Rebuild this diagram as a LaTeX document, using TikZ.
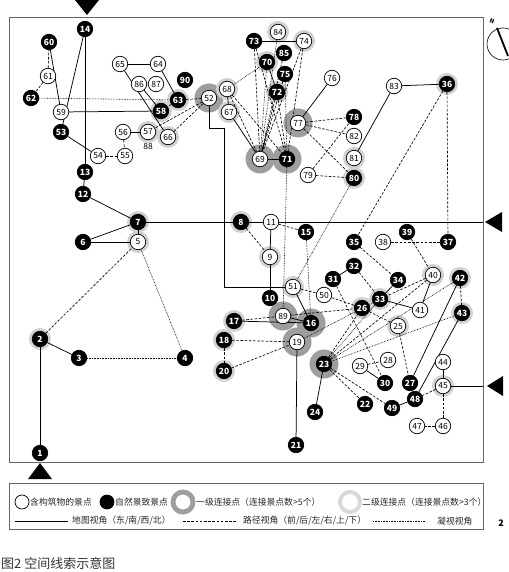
\documentclass[tikz,border=0pt]{standalone}
\usepackage{fontspec}
\setmainfont{Noto Sans CJK SC}
\pgfdeclarelayer{halo}
\pgfdeclarelayer{front}
\pgfsetlayers{halo,main,front}
\tikzset{
  site/.style={circle, draw=black, line width=0.7pt, fill=white, minimum size=15.5pt, inner sep=0pt, font=\fontsize{8.5}{8.5}\selectfont},
  nature/.style={site, fill=black, text=white, font=\fontsize{8.5}{8.5}\selectfont\bfseries},
  mapview/.style={line width=0.75pt},
  pathview/.style={line width=0.65pt, dash pattern=on 2.6pt off 1.6pt},
  gazeview/.style={line width=0.6pt, dash pattern=on 0.7pt off 0.9pt},
  hubA/.style={fill=black!38},
  hubB/.style={fill=black!18},
  frame/.style={draw=black!60, line width=0.8pt},
  legend/.style={anchor=west, inner sep=0pt, text=black!85, font=\fontsize{8.8}{8.8}\selectfont},
}
\begin{document}
\begin{tikzpicture}[x=1pt,y=-1pt]
\useasboundingbox (0,0) rectangle (508,572);

% Frames
\draw[frame] (9,17) rectangle (483,462);
\draw[frame] (9,483) rectangle (483,529);

% View arrows
\fill (75,0) -- (99,0) -- (87,15) -- cycle;
\fill (40,463) -- (28,479) -- (52,479) -- cycle;
\fill (485,222) -- (502,212) -- (502,232) -- cycle;
\fill (487,386) -- (503,376) -- (503,396) -- cycle;
\coordinate (eastA) at (483,222);
\coordinate (eastB) at (483,386);
\coordinate (bend52) at (224,128);

% Compass
\draw[line width=0.6pt] (503,44) circle (16pt);
\draw[line width=1.8pt] (497,28) -- (508,56);
\node[font=\bfseries\fontsize{6}{6}\selectfont, rotate=-20] (north) at (492,21) {N};

% Scenic spots
\begin{pgfonlayer}{front}
\foreach \n/\x/\y in {1/40/453, 2/40/339, 3/79/358, 4/185/358, 6/83/242, 7/138/222,
  8/241/222, 10/270/298, 12/83/194, 13/85/172, 14/85/29, 15/306/232, 16/311/323,
  17/234/321, 18/224/340, 20/224/371, 21/296/445, 22/365/404, 23/324/364,
  24/315/412, 26/362/308, 27/410/383, 30/385/383, 31/333/279, 32/354/266,
  33/380/299, 34/398/280, 35/354/242, 36/447/84, 37/448/242, 39/407/232,
  42/460/278, 43/462/313, 48/415/399, 49/392/408, 53/61/132, 58/161/111,
  60/49/42, 62/31/98, 63/178/100, 70/267/62, 71/287/159, 72/277/92, 73/254/41,
  75/285/74, 78/354/117, 80/354/178, 85/284/53, 90/185/80}
  \node[nature] (n\n) at (\x,\y) {\n};
\foreach \n/\x/\y in {5/138/242, 9/270/257, 11/271/222, 19/297/342, 25/398/326,
  28/388/360, 29/360/366, 38/383/242, 40/433/275, 41/420/310, 44/443/362,
  45/443/386, 46/443/426, 47/417/426, 50/324/295, 51/293/287, 52/209/98,
  54/98/156, 55/125/156, 56/123/132, 57/148/132, 59/61/112, 61/48/76,
  64/158/64, 65/120/64, 66/168/137, 67/229/112, 68/227/89, 69/260/159,
  74/304/41, 76/332/78, 77/298/123, 79/308/175, 81/354/158, 82/354/136,
  83/394/86, 84/278/32, 86/139/84, 87/156/84, 89/283/316}
  \node[site] (n\n) at (\x,\y) {\n};
\node[font=\fontsize{8.5}{8.5}\selectfont] (lbl88) at (148,146) {88};
\end{pgfonlayer}

% Connection points
\begin{pgfonlayer}{halo}
\foreach \n in {16,19,23,52,69,71,77,89}
  \fill[hubA] (n\n) circle (14.5pt);
\foreach \n in {2,5,7,8,9,17,18,20,25,26,33,36,40,42,43,45,51,57,58,63,66,67,68,70,72,74,80,81,84}
  \fill[hubB] (n\n) circle (11pt);
\end{pgfonlayer}

% Map view
\foreach \a/\b in {1/2, 2/3, 12/13, 12/7, 6/7, 6/5, 7/5, 14/13, 14/53, 60/59,
  59/58, 53/54, 65/64, 64/63, 65/66, 86/58, 56/57, 68/67, 67/69, 69/71, 73/74,
  70/72, 76/77, 81/83, 83/36, 11/9, 9/10, 51/16, 89/16, 17/16, 19/21, 23/24,
  31/32, 34/33, 33/41, 40/41, 42/27, 43/48, 44/45, 48/49, 29/30}
  \draw[mapview] (n\a) -- (n\b);
\draw[mapview] (n7) -- (eastA);
\draw[mapview] (n45) -- (eastB);
\draw[mapview] (n52) |- (bend52) |- (n51);

% Path view
\foreach \a/\b in {2/5, 61/60, 61/62, 54/55, 56/55, 63/52, 52/66, 52/57, 63/58,
  68/71, 68/69, 73/69, 73/71, 74/69, 74/71, 85/69, 75/69, 72/69, 72/71, 77/78,
  77/82, 77/80, 79/78, 79/80, 36/37, 36/35, 8/9, 11/15, 51/50, 50/26, 89/26,
  17/89, 18/19, 18/20, 20/19, 23/22, 23/49, 23/26, 23/40, 39/40, 38/37, 35/34,
  32/33, 40/33, 42/43, 45/48, 45/46, 46/47, 26/25, 25/27, 29/28, 31/30}
  \draw[pathview] (n\a) -- (n\b);

% Gaze view
\foreach \a/\b in {5/4, 3/4, 62/63, 70/69, 70/68, 75/71, 84/69, 71/89, 80/51,
  15/16, 23/42, 23/43, 23/33, 19/33}
  \draw[gazeview] (n\a) -- (n\b);

% Legend
\node[site, minimum size=14pt] (keySite) at (22,502) {};
\node[legend] (txtSite) at (30,502) {含构筑物的景点};
\node[nature, minimum size=14pt] (keyNature) at (107,502) {};
\node[legend] (txtNature) at (115,502) {自然景致景点};
\fill[black!38, even odd rule] (183,502) circle (12.5pt) circle (7.5pt);
\node[legend] (txtHubA) at (196,502) {一级连接点（连接景点数>5个）};
\fill[black!15, even odd rule] (350,502) circle (12pt) circle (8pt);
\node[legend] (txtHubB) at (362,502) {二级连接点（连接景点数>3个）};
\draw[mapview] (15,521) -- (68,521);
\node[legend] (txtMap) at (72,521) {地图视角（东/南/西/北）};
\draw[pathview] (183,521) -- (237,521);
\node[legend] (txtPath) at (243,521) {路径视角（前/后/左/右/上/下）};
\draw[gazeview] (373,521) -- (425,521);
\node[legend] (txtGaze) at (437,521) {凝视视角};

% Caption
\node[font=\bfseries\fontsize{9}{9}\selectfont] (pageNum) at (501,523) {2};
\node[anchor=west, inner sep=0pt, text=black!80, font=\fontsize{13}{13}\selectfont] (caption) at (1,563) {图2\ 空间线索示意图};
\end{tikzpicture}
\end{document}
